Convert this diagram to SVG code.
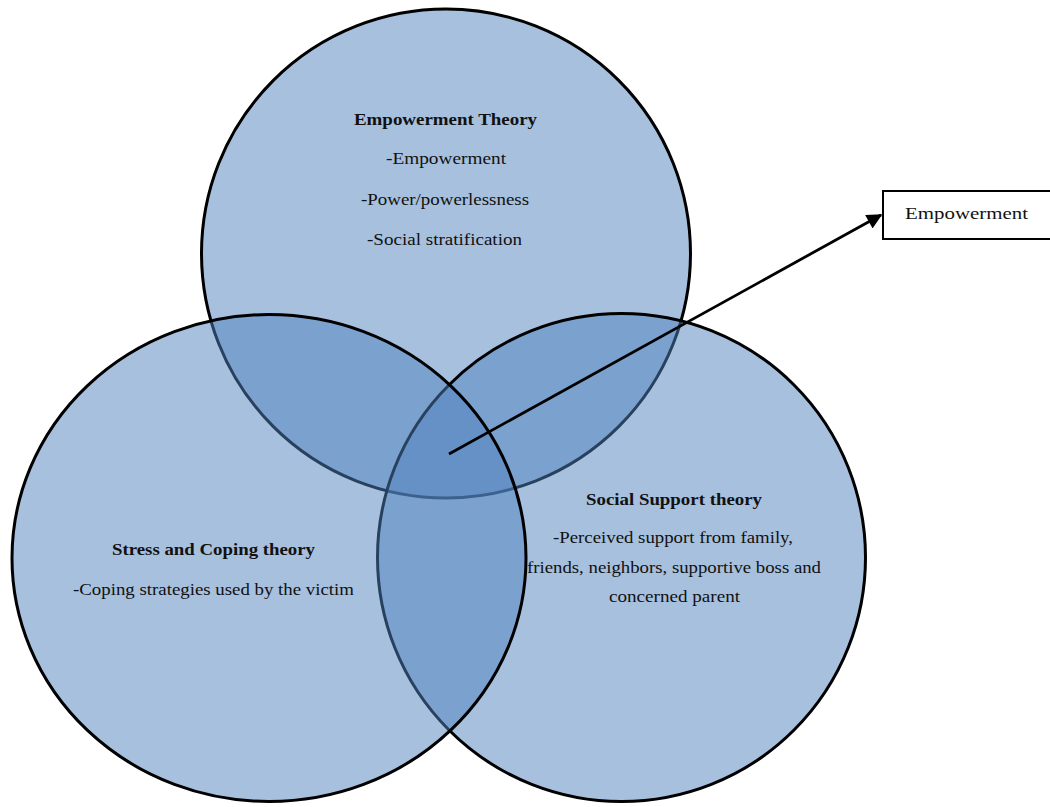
<svg xmlns="http://www.w3.org/2000/svg" width="1050" height="807" viewBox="0 0 1050 807">
  <style>
    .circ { fill: #4F81BD; fill-opacity: 0.5; stroke: #000; stroke-width: 3; }
    .t { font-family: "Liberation Serif", "Times New Roman", serif; font-size: 16.5px; fill: #111; }
    .b { font-weight: bold; }
    .box { fill: #fff; stroke: #000; stroke-width: 2; }
    .conn { stroke: #000; stroke-width: 2.8; fill: none; }
  </style>
  <defs>
    <marker id="arrow" viewBox="0 0 10 10" refX="9" refY="5" markerWidth="6" markerHeight="5.5" markerUnits="strokeWidth" orient="auto">
      <path d="M0,0 L10,5 L0,10 Z" fill="#000"/>
    </marker>
  </defs>
  <rect width="1050" height="807" fill="#fff"/>
  <g id="empowerment-theory">
    <circle class="circ" cx="446" cy="253.5" r="244.5"/>
  </g>
  <g id="social-support-theory">
    <circle class="circ" cx="621.5" cy="557.5" r="244"/>
  </g>
  <g id="stress-coping-theory">
    <ellipse class="circ" cx="269" cy="558" rx="257" ry="243.5"/>
  </g>
  <g id="empowerment-theory-text">
    <text class="t b" x="354" y="125" textLength="183" lengthAdjust="spacingAndGlyphs">Empowerment Theory</text>
    <text class="t" x="386" y="164" textLength="120" lengthAdjust="spacingAndGlyphs">-Empowerment</text>
    <text class="t" x="361" y="205" textLength="168" lengthAdjust="spacingAndGlyphs">-Power/powerlessness</text>
    <text class="t" x="367" y="245" textLength="155" lengthAdjust="spacingAndGlyphs">-Social stratification</text>
  </g>
  <g id="stress-coping-theory-text">
    <text class="t b" x="112" y="555" textLength="203" lengthAdjust="spacingAndGlyphs">Stress and Coping theory</text>
    <text class="t" x="73" y="595" textLength="281" lengthAdjust="spacingAndGlyphs">-Coping strategies used by the victim</text>
  </g>
  <g id="social-support-theory-text">
    <text class="t b" x="586" y="505" textLength="176" lengthAdjust="spacingAndGlyphs">Social Support theory</text>
    <text class="t" x="553" y="543" textLength="240" lengthAdjust="spacingAndGlyphs">-Perceived support from family,</text>
    <text class="t" x="527" y="573" textLength="294" lengthAdjust="spacingAndGlyphs">friends, neighbors, supportive boss and</text>
    <text class="t" x="609" y="602" textLength="131" lengthAdjust="spacingAndGlyphs">concerned parent</text>
  </g>
  <g id="connectors">
    <line class="conn" x1="449" y1="454" x2="881" y2="215" marker-end="url(#arrow)"/>
  </g>
  <g id="empowerment-box">
    <rect class="box" x="883" y="191" width="172" height="48"/>
    <text class="t" x="905" y="219" textLength="123" lengthAdjust="spacingAndGlyphs" style="font-size:17.5px">Empowerment</text>
  </g>
</svg>
